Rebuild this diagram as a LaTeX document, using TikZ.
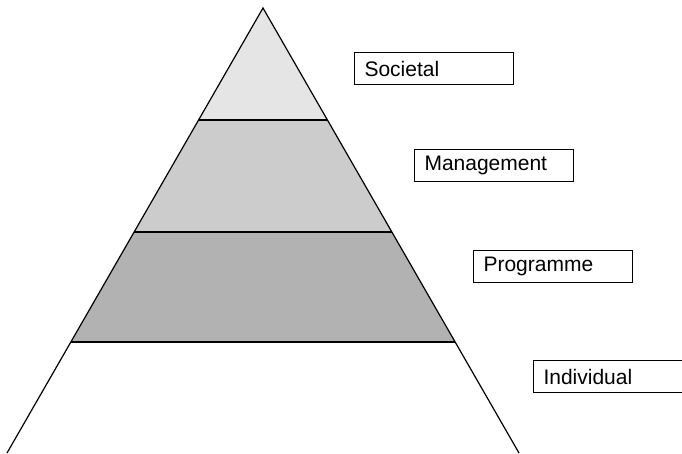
\documentclass[tikz,border=0pt]{standalone}
\usepackage{fontspec}
\setmainfont{Liberation Sans}
\usetikzlibrary{calc}

\begin{document}
\begin{tikzpicture}[
        x=1pt, y=-1pt,
        band/.style = {fill=black!#1, draw=none},
        edge/.style = {draw=black, line width=1.2pt},
        level/.style = {draw=black, line width=1pt, minimum width=159pt, minimum height=32pt,
                        text width=139pt, align=left, inner xsep=10pt, anchor=north west,
                        font=\fontsize{21}{25}\selectfont}
        ]

        \useasboundingbox (0,0) rectangle (682,453);
        \clip (0,0) rectangle (682,453);

        % pyramid corners
        \coordinate (apex) at (263,8);
        \coordinate (bl) at (7,453);
        \coordinate (br) at (519,453);
        \foreach \i/\t in {1/0.2517, 2/0.5034, 3/0.7506} {
            \coordinate (l\i) at ($(apex)!\t!(bl)$);
            \coordinate (r\i) at ($(apex)!\t!(br)$);
        }

        \path[band=10] (apex) -- (l1) -- (r1) -- cycle;
        \path[band=20] (l1) -- (l2) -- (r2) -- (r1) -- cycle;
        \path[band=30] (l2) -- (l3) -- (r3) -- (r2) -- cycle;

        \draw[edge] (bl) -- (apex) -- (br);
        \draw[edge] (l1) -- (r1);
        \draw[edge] (l2) -- (r2);
        \draw[edge] (l3) -- (r3);

        % level labels
        \node (soc) at (354,52)  [level] {Societal};
        \node (man) at (414,149) [level] {Management};
        \node (pro) at (473,250) [level] {Programme};
        \node (ind) at (533,360) [level] {Individual};
    \end{tikzpicture}
\end{document}
